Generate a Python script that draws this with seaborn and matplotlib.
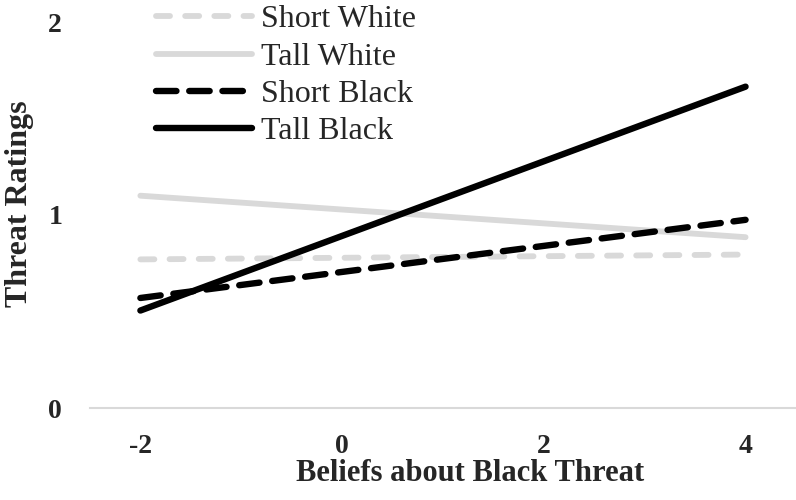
import numpy as np
import pandas as pd
import matplotlib
matplotlib.use("Agg")
import matplotlib.pyplot as plt
import seaborn as sns

# data
x_vals = [-2, 4]
series_names = ["Short White", "Tall White", "Short Black", "Tall Black"]
short_white = [0.77, 0.795]
tall_white = [1.10, 0.885]
short_black = [0.57, 0.975]
tall_black = [0.505, 1.665]

x_ticks = [-2, 0, 2, 4]
y_ticks = [0, 1, 2]

GRAY = "#D9D9D9"
colors = {"Short White": GRAY, "Tall White": GRAY,
          "Short Black": "black", "Tall Black": "black"}
dash_map = {"Short White": (2.4, 2.6), "Tall White": "",
            "Short Black": (3.2, 2.0), "Tall Black": ""}


def main():
    values = [short_white, tall_white, short_black, tall_black]
    rows = []
    for name, ys in zip(series_names, values):
        for xv, yv in zip(x_vals, ys):
            rows.append({"Group": name, "x": xv, "y": yv})
    df = pd.DataFrame(rows)

    sns.set_style("white")
    plt.rcParams["font.family"] = ["Liberation Serif", "DejaVu Serif"]
    plt.rcParams["axes.unicode_minus"] = False

    fig = plt.figure(figsize=(7.96, 5.0), dpi=100)
    ax = fig.add_axes([0.113, 0.184, 0.887, 0.772])

    for name in series_names:
        sub = df[df["Group"] == name]
        lw = 4.6 if "Black" in name else 4.2
        kw = {}
        if dash_map[name]:
            kw["dashes"] = dash_map[name]
        sns.lineplot(data=sub, x="x", y="y", ax=ax, color=colors[name],
                     linewidth=lw, label=name, solid_capstyle="round",
                     dash_capstyle="round", **kw)

    ax.set_xlim(-2.5, 4.5)
    ax.set_ylim(0, 2)
    ax.set_xticks(x_ticks)
    ax.set_yticks(y_ticks)
    ax.tick_params(axis="both", length=0, labelsize=20)
    ax.tick_params(axis="x", pad=19)
    ax.tick_params(axis="y", pad=20)
    for lab in ax.get_xticklabels() + ax.get_yticklabels():
        lab.set_fontweight("bold")

    for s in ["top", "right", "left"]:
        ax.spines[s].set_visible(False)
    ax.spines["bottom"].set_color(GRAY)
    ax.spines["bottom"].set_linewidth(1.5)

    ax.set_xlabel("Beliefs about Black Threat", fontsize=22, fontweight="bold",
                  va="baseline")
    ax.xaxis.set_label_coords(0.538, -0.19)
    ax.set_ylabel("Threat Ratings", fontsize=23, fontweight="bold",
                  va="center")
    ax.yaxis.set_label_coords(-0.10, 0.53)

    ax.legend(loc="upper left", bbox_to_anchor=(156 / 796, 0.99),
              bbox_transform=fig.transFigure, frameon=False, fontsize=23,
              handlelength=3.0, handletextpad=0.3, labelspacing=0.25,
              borderpad=0, borderaxespad=0)

    fig.savefig("out.png", dpi=100)
    plt.close(fig)


if __name__ == "__main__":
    main()
